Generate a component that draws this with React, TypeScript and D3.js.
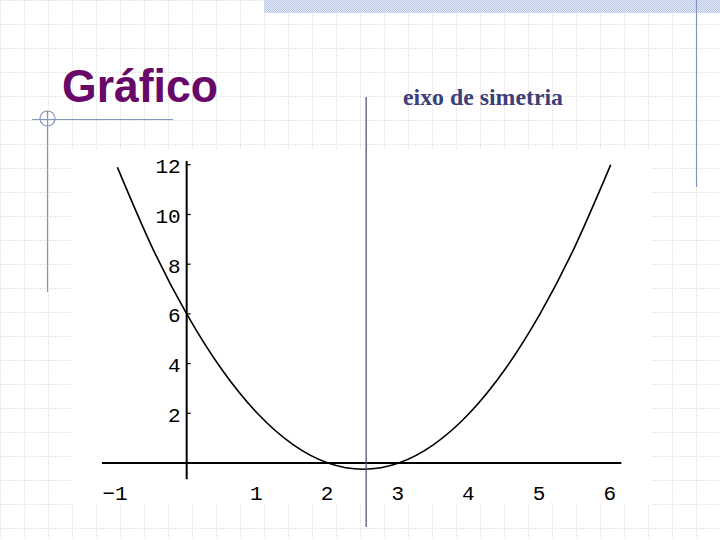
import React from 'react'
import * as d3 from 'd3'

// parabola points
const curveX = [-0.98, -0.5, 0, 0.5, 1, 1.5, 2, 2.5, 3, 3.5, 4, 4.5, 5, 5.5, 6]
const curveY = [11.9, 8.75, 6, 3.75, 2, 0.75, 0, -0.25, 0, 0.75, 2, 3.75, 6, 8.75, 12]
const yTicks = [2, 4, 6, 8, 10, 12]
const xTicks = [-1, 1, 2, 3, 4, 5, 6]
const symmetryX = 2.54

const W = 720
const H = 540

export default function App() {
    const x = d3.scaleLinear().domain([-1, 6]).range([116, 610.7])
    const y = d3.scaleLinear().domain([0, 12]).range([463, 164.8])

    const pts: [number, number][] = curveX.map((v, i) => [v, curveY[i]])
    const path = d3.line<[number, number]>()
        .x(d => x(d[0]))
        .y(d => y(d[1]))
        .curve(d3.curveNatural)(pts) || ''

    const gridX = Array.from({ length: 31 }, (_, i) => i * 24 + 0.5)
    const gridY = Array.from({ length: 23 }, (_, i) => i * 24 + 0.5)

    const mono = '"Liberation Mono", "DejaVu Sans Mono", monospace'

    return (
        <svg width={W} height={H} style={{ position: 'absolute', left: 0, top: 0, background: '#fff' }}>
            <defs>
                <pattern id="hatch" width="2" height="2" patternUnits="userSpaceOnUse">
                    <rect width="2" height="2" fill="#e4eaf6" />
                    <rect width="1" height="1" fill="#b9c7e6" />
                    <rect x="1" y="1" width="1" height="1" fill="#b9c7e6" />
                </pattern>
            </defs>

            {/* slide grid */}
            <g stroke="#d6d6d6" strokeWidth={1} strokeDasharray="1 1.5">
                {gridX.map(gx => <line key={'gx' + gx} x1={gx} x2={gx} y1={0} y2={H} />)}
                {gridY.map(gy => <line key={'gy' + gy} x1={0} x2={W} y1={gy} y2={gy} />)}
            </g>
            <rect x={264} y={0} width={W - 264} height={13} fill="url(#hatch)" />

            {/* slide decorations */}
            <g stroke="#8494bd" strokeWidth={1.2} fill="none">
                <line x1={32} x2={173} y1={119.5} y2={119.5} />
                <circle cx={47.5} cy={118.5} r={7.5} />
                <line x1={47.5} x2={47.5} y1={111} y2={292} />
                <line x1={696.5} x2={696.5} y1={0} y2={187} />
            </g>

            <text x={62} y={102} fill="#680868" fontFamily='"Liberation Sans", Arial, sans-serif'
                fontWeight="bold" fontSize={47} textLength={156} lengthAdjust="spacingAndGlyphs">
                Gráfico
            </text>

            {/* chart picture */}
            <rect x={72} y={150} width={580} height={355} fill="#fff" />

            {/* axes */}
            <g stroke="#000" strokeWidth={2}>
                <line x1={x(-1.2)} x2={x(6.15)} y1={y(0)} y2={y(0)} />
                <line x1={x(0)} x2={x(0)} y1={y(12.15)} y2={y(-0.65)} />
                {yTicks.map(t => (
                    <line key={'t' + t} x1={x(0)} x2={x(0) + 4} y1={y(t)} y2={y(t)} strokeWidth={1.2} />
                ))}
            </g>
            <g fontFamily={mono} fontSize={21} fill="#000">
                {yTicks.map(t => (
                    <text key={'yl' + t} x={x(0) - 6} y={y(t) + 3} textAnchor="end" dominantBaseline="central">
                        {t}
                    </text>
                ))}
                {xTicks.map(t => (
                    <text key={'xl' + t} x={x(t) - 1} y={494} textAnchor="middle" dominantBaseline="central">
                        {t < 0 ? '\u2212' + Math.abs(t) : t}
                    </text>
                ))}
            </g>

            <path d={path} fill="none" stroke="#000" strokeWidth={1.6} />

            {/* eixo de simetria */}
            <line x1={x(symmetryX)} x2={x(symmetryX)} y1={97} y2={527} stroke="#50577a" strokeWidth={1.3} />
            <text x={403} y={105} fill="#3c4078" fontFamily='"Liberation Serif", "Times New Roman", serif'
                fontWeight="bold" fontSize={23} textLength={160} lengthAdjust="spacingAndGlyphs">
                eixo de simetria
            </text>
        </svg>
    )
}
